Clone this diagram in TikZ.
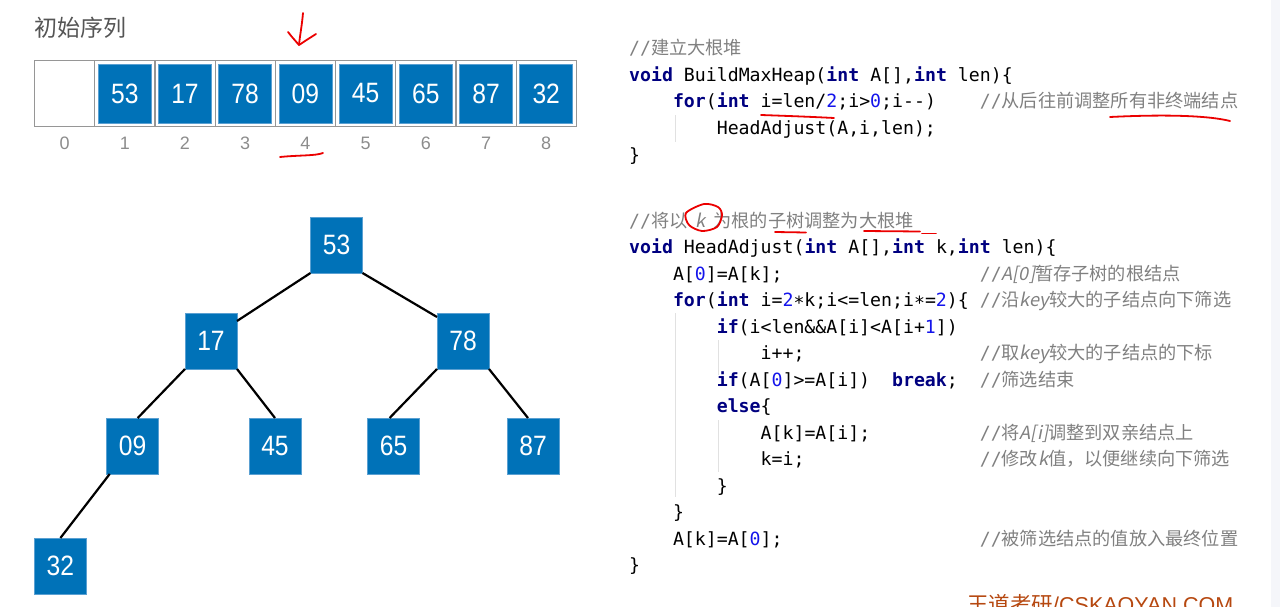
\documentclass[tikz,border=0pt]{standalone}
\usepackage{fontspec}
\setmainfont{Liberation Sans}
\newfontfamily\cjkfont{Noto Sans CJK SC}
\newfontfamily\cjkslant{Noto Sans CJK SC}[FakeSlant=0.2]
\newfontfamily\codefont{DejaVu Sans Mono}
\newfontfamily\numfont{Liberation Sans}[FakeStretch=0.88]

\definecolor{heapblue}{RGB}{0,114,184}
\definecolor{edgeblue}{RGB}{90,160,210}
\definecolor{cellgray}{RGB}{150,150,150}
\definecolor{idxgray}{RGB}{140,140,140}
\definecolor{titlegray}{RGB}{85,85,85}
\definecolor{kwnavy}{RGB}{0,0,128}
\definecolor{numblue}{RGB}{20,20,235}
\definecolor{cmgray}{RGB}{128,128,128}
\definecolor{guidegray}{RGB}{225,225,225}
\definecolor{penred}{RGB}{235,0,0}
\definecolor{brandbrown}{RGB}{182,72,16}
\definecolor{stripgray}{RGB}{245,246,250}

% code helpers
\newcommand\kw[1]{{\color{kwnavy}\bfseries #1}}
\newcommand\nm[1]{{\color{numblue}#1}}
\newcommand\cit[1]{{\cjkslant #1}}
\newcommand\cmt[1]{{\color{cmgray}//{\cjkfont #1}}}
\newcommand\mul{\raisebox{-0.3ex}{*}}

\tikzset{
  cell/.style={draw=cellgray, line width=1.2pt, minimum width=60.2pt,
    minimum height=66.5pt, inner sep=0pt, outer sep=0pt},
  abox/.style={fill=heapblue, draw=edgeblue, line width=0.8pt,
    minimum width=53pt, minimum height=59pt, inner sep=0pt, outer sep=0pt,
    text=white, font=\numfont\fontsize{28}{30}\selectfont},
  tbox/.style={abox, minimum width=52pt, minimum height=56pt},
  idx/.style={text=idxgray, inner sep=0pt, font=\fontsize{18}{20}\selectfont},
  code/.style={anchor=base west, inner sep=0pt,
    font=\codefont\fontsize{18.2}{20}\selectfont},
  treeline/.style={line width=2.2pt, black},
  guide/.style={draw=guidegray, line width=0.8pt},
  redpen/.style={draw=penred, line width=1.8pt, line cap=round, line join=round},
}

\begin{document}
\begin{tikzpicture}[x=1pt,y=-1pt]
\useasboundingbox (0,0) rectangle (1280,607);
\clip (0,0) rectangle (1280,607);
\fill[stripgray] (1271,0) rectangle (1280,607);

% ---- initial sequence ----
\node[anchor=west, inner sep=0pt, text=titlegray,
  font=\cjkfont\fontsize{23}{25}\selectfont] (title) at (34,28) {初始序列};

\foreach \i in {0,...,8} {
  \node[cell] (c\i) at (64.6+60.2*\i, 93.5) {};
  \node[idx] (n\i) at (64.6+60.2*\i, 143.5) {\i};
}
\foreach \i/\v in {1/53,2/17,3/78,4/09,5/45,6/65,7/87,8/32}
  \node[abox] (a\i) at (c\i) {\v};

% ---- heap as a binary tree ----
\node[tbox] (t53) at (336.5,245) {53};
\node[tbox] (t17) at (211,341) {17};
\node[tbox] (t78) at (463,341) {78};
\node[tbox] (t09) at (132.7,446) {09};
\node[tbox] (t45) at (275,446) {45};
\node[tbox] (t65) at (393.6,446) {65};
\node[tbox] (t87) at (533,446) {87};
\node[tbox] (t32) at (60.4,566) {32};

\draw[treeline] (t53.south west) -- ([yshift=-8pt]t17.north east);
\draw[treeline] (t53.south east) -- ([yshift=-4pt]t78.north west);
\draw[treeline] (t17.south west) -- ([xshift=5pt]t09.north);
\draw[treeline] (t17.south east) -- (t45.north);
\draw[treeline] (t78.south west) -- ([xshift=-4pt]t65.north);
\draw[treeline] (t78.south east) -- ([xshift=-5pt]t87.north);
\draw[treeline] ([xshift=3pt]t09.south west) -- (t32.north);

% ---- code ----
% indentation guides
\draw[guide] (675,115) -- (675,142);
\draw[guide] (675,313) -- (675,497);
\draw[guide] (718,340) -- (718,375);
\draw[guide] (718,420) -- (718,472);

\node[code] (l1) at (629,55) {\cmt{建立大根堆}};
\node[code] (l2) at (629,81.5) {\kw{void} BuildMaxHeap(\kw{int} A[],\kw{int} len)\{};
\node[code] (l3) at (672.8,108) {\kw{for}(\kw{int} i=len/\nm{2};i>\nm{0};i-{}-)};
\node[code] (m3) at (979.6,108) {\cmt{从后往前调整所有非终端结点}};
\node[code] (l4) at (716.6,134.5) {HeadAdjust(A,i,len);};
\node[code] (l5) at (629,161) {\}};

\node[code] (l7) at (629,227) {\cmt{将以\hspace{8pt}\cit{k}\hspace{8pt}为根的子树调整为大根堆}};
\node[code] (l8) at (629,253.5) {\kw{void} HeadAdjust(\kw{int} A[],\kw{int} k,\kw{int} len)\{};
\node[code] (l9) at (672.8,280) {A[\nm{0}]=A[k];};
\node[code] (m9) at (979.6,280) {\cmt{\cit{A[0]}暂存子树的根结点}};
\node[code] (l10) at (672.8,306.5) {\kw{for}(\kw{int} i=\nm{2}\mul k;i<=len;i\mul=\nm{2})\{};
\node[code] (m10) at (979.6,306.5) {\cmt{沿\cit{key}较大的子结点向下筛选}};
\node[code] (l11) at (716.6,333) {\kw{if}(i<len\&\&A[i]<A[i+\nm{1}])};
\node[code] (l12) at (760.5,359.5) {i++;};
\node[code] (m12) at (979.6,359.5) {\cmt{取\cit{key}较大的子结点的下标}};
\node[code] (l13) at (716.6,386) {\kw{if}(A[\nm{0}]>=A[i])~~\kw{break};};
\node[code] (m13) at (979.6,386) {\cmt{筛选结束}};
\node[code] (l14) at (716.6,412.5) {\kw{else}\{};
\node[code] (l15) at (760.5,439) {A[k]=A[i];};
\node[code] (m15) at (979.6,439) {\cmt{将\cit{A[i]}调整到双亲结点上}};
\node[code] (l16) at (760.5,465.5) {k=i;};
\node[code] (m16) at (979.6,465.5) {\cmt{修改\cit{k}值，以便继续向下筛选}};
\node[code] (l17) at (716.6,492) {\}};
\node[code] (l18) at (672.8,518.5) {\}};
\node[code] (l19) at (672.8,545) {A[k]=A[\nm{0}];};
\node[code] (m19) at (979.6,545) {\cmt{被筛选结点的值放入最终位置}};
\node[code] (l20) at (629,571.5) {\}};

% ---- hand-drawn red marks ----
\draw[redpen] (303,13) .. controls (302,25) and (300,35) .. (299,45);
\draw[redpen] (288,32) .. controls (292,37) .. (299,45) .. controls (305,41) .. (316,34);
\draw[redpen] (280,157) .. controls (300,155) and (315,156) .. (323,153);
\draw[redpen] (761,115) .. controls (790,116) and (815,117) .. (834,118);
\draw[redpen] (1110,117) .. controls (1170,114) and (1210,116) .. (1230,121);
\draw[redpen] plot[smooth cycle] coordinates
  {(704,204) (718,207) (722,215) (717,227) (702,231) (689,225) (686,213)};
\draw[redpen] (775,232) -- (806,232.5);
\draw[redpen] (864,231) -- (920,231.5);
\draw[redpen] (922,233.5) -- (936,233.5);

% ---- brand line, running off the bottom edge ----
\node[anchor=base west, inner sep=0pt, text=brandbrown,
  font=\fontsize{21.5}{23}\selectfont] (brand) at (967,612.5)
  {{\cjkfont 王道考研}/CSKAOYAN.COM};
\end{tikzpicture}
\end{document}
